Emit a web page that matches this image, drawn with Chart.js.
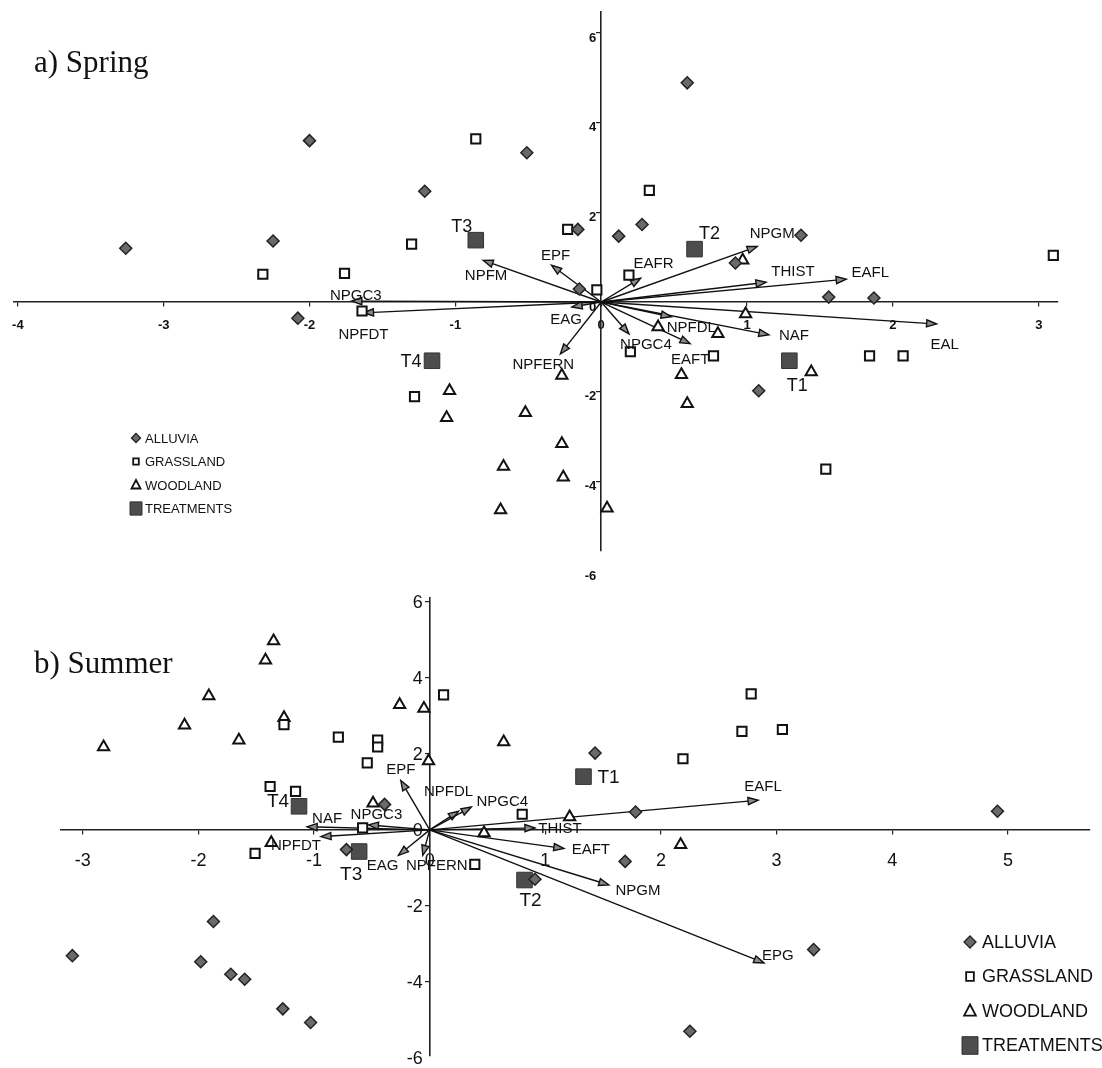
<!DOCTYPE html>
<html>
<head>
<meta charset="utf-8">
<script src="https://cdn.jsdelivr.net/npm/chart.js"></script>
<style>
	body { margin: 0; background: #fff; }
	#wrap { position: relative; width: 1102px; height: 1068px; }
	canvas { position: absolute; left: 0; display: block; }
</style>
</head>
<body>
<div id="wrap">
	<canvas id="spring" width="1102" height="584" style="top:0"></canvas>
	<canvas id="summer" width="1102" height="484" style="top:584px"></canvas>
</div>
<script>
// groups and treatments
const groupNames = ['ALLUVIA', 'GRASSLAND', 'WOODLAND', 'TREATMENTS'];
const treatmentNames = ['T1', 'T2', 'T3', 'T4'];

// a) Spring
const springTicksX = [-4, -3, -2, -1, 0, 1, 2, 3];
const springTicksY = [-6, -4, -2, 0, 2, 4, 6];
const springAlluvia = [[-3.26, 1.20], [-2.25, 1.36], [-2.00, 3.60], [-1.21, 2.47], [-0.51, 3.33], [0.59, 4.89], [-0.16, 1.62], [0.12, 1.47], [0.28, 1.73], [1.37, 1.49], [0.92, 0.87], [1.56, 0.11], [1.87, 0.09], [-0.15, 0.29], [-2.08, -0.36], [1.08, -1.98]];
const springGrassland = [[-2.32, 0.62], [-1.76, 0.64], [-1.30, 1.29], [-0.86, 3.64], [-0.23, 1.62], [0.33, 2.49], [0.19, 0.60], [-0.03, 0.27], [3.10, 1.04], [-1.64, -0.20], [-1.28, -2.11], [0.20, -1.11], [0.77, -1.20], [1.84, -1.20], [2.07, -1.20], [1.54, -3.73]];
const springWoodland = [[0.97, 0.93], [0.99, -0.27], [0.39, -0.56], [0.80, -0.71], [0.55, -1.62], [-0.27, -1.64], [-1.04, -1.98], [-1.06, -2.58], [-0.52, -2.47], [0.59, -2.27], [1.44, -1.56], [-0.27, -3.16], [-0.26, -3.91], [-0.67, -3.67], [-0.69, -4.64], [0.04, -4.60]];
const springTreatments = [[1.29, -1.31], [0.64, 1.18], [-0.86, 1.38], [-1.16, -1.31]];
const springVars = ['NPGC3', 'NPFDT', 'NPFM', 'EPF', 'EAFR', 'NPGM', 'THIST', 'EAFL', 'EAL', 'NAF', 'NPFDL', 'EAFT', 'NPGC4', 'NPFERN', 'EAG'];
const springVarX = [-1.71, -1.63, -0.81, -0.34, 0.27, 1.07, 1.13, 1.68, 2.30, 1.15, 0.48, 0.61, 0.19, -0.28, -0.20];
const springVarY = [0.02, -0.24, 0.93, 0.82, 0.53, 1.24, 0.44, 0.51, -0.49, -0.73, -0.33, -0.93, -0.71, -1.16, -0.11];

// b) Summer
const summerTicksX = [-3, -2, -1, 0, 1, 2, 3, 4, 5];
const summerTicksY = [-6, -4, -2, 0, 2, 4, 6];
const summerAlluvia = [[1.43, 2.02], [1.78, 0.47], [1.69, -0.83], [4.91, 0.49], [3.32, -3.15], [2.25, -5.30], [-0.39, 0.67], [-0.72, -0.52], [0.91, -1.30], [-3.09, -3.31], [-1.87, -2.41], [-1.98, -3.47], [-1.72, -3.80], [-1.60, -3.93], [-1.27, -4.71], [-1.03, -5.07]];
const summerGrassland = [[0.12, 3.55], [-0.79, 2.44], [-0.45, 2.36], [-0.45, 2.18], [-0.54, 1.76], [-1.26, 2.77], [-1.38, 1.14], [-1.16, 1.01], [0.80, 0.41], [2.78, 3.58], [2.70, 2.59], [3.05, 2.64], [2.19, 1.87], [-1.51, -0.62], [-0.58, 0.05], [0.39, -0.91]];
const summerWoodland = [[-1.35, 4.97], [-1.42, 4.46], [-1.91, 3.52], [-2.12, 2.75], [-2.82, 2.18], [-1.65, 2.36], [-1.26, 2.95], [-0.26, 3.29], [-0.05, 3.19], [-0.01, 1.81], [0.64, 2.31], [-0.49, 0.70], [1.21, 0.34], [0.47, -0.08], [-1.37, -0.34], [2.17, -0.39]];
const summerTreatments = [[1.33, 1.40], [0.82, -1.32], [-0.61, -0.57], [-1.13, 0.62]];
const summerVars = ['EPF', 'NPFDL', 'NPGC4', 'THIST', 'EAFL', 'EAFT', 'NPGM', 'EPG', 'NPFERN', 'EAG', 'NAF', 'NPFDT', 'NPGC3'];
const summerVarX = [-0.25, 0.25, 0.36, 0.91, 2.84, 1.16, 1.55, 2.89, -0.06, -0.27, -1.06, -0.94, -0.53];
const summerVarY = [1.30, 0.49, 0.60, 0.05, 0.78, -0.49, -1.45, -3.50, -0.67, -0.67, 0.08, -0.18, 0.13];

const SANS = '"Liberation Sans", Arial, sans-serif';
const SERIF = '"Liberation Serif", "Times New Roman", serif';

// where each text sits relative to its arrow head / treatment square (px)
const springLabelShift = {
	NPGC3: [4, -5], NPFDT: [0, 22], NPFM: [3, 16], EPF: [4, -9], EAFR: [13, -14], NPGM: [15, -13],
	THIST: [27, -10], EAFL: [24, -6], EAL: [8, 21], NAF: [25, 1], NPFDL: [20, 11], EAFT: [0, 16],
	NPGC4: [17, 11], NPFERN: [-17, 11], EAG: [-6, 13]
};
const springTreatShift = [[8, 25], [15, -15], [-14, -13], [-21, 1]];
const summerLabelShift = {
	EPF: [0, -11], NPFDL: [-10, -19], NPGC4: [31, -5], THIST: [25, 1], EAFL: [5, -13], EAFT: [27, 1],
	NPGM: [29, 6], EPG: [14, -7], NPFERN: [14, 11], EAG: [-16, 11], NAF: [20, -8], NPFDT: [-25, 9], NPGC3: [8, -10]
};
const summerTreatShift = [[25, 1], [6, 21], [-8, 23], [-21, -5]];

function toPoints(arr) {
	return arr.map(p => ({ x: p[0], y: p[1] }));
}

// small marker shapes for the legends
function mark(ctx, style, x, y, s) {
	ctx.beginPath();
	if (style == 0) {
		ctx.moveTo(x, y - s); ctx.lineTo(x + s, y); ctx.lineTo(x, y + s); ctx.lineTo(x - s, y);
		ctx.closePath();
		ctx.fillStyle = '#6a6a6a'; ctx.strokeStyle = '#222'; ctx.lineWidth = 1.3;
		ctx.fill(); ctx.stroke();
	} else if (style == 1) {
		ctx.rect(x - s * 0.7, y - s * 0.8, s * 1.4, s * 1.6);
		ctx.fillStyle = '#fff'; ctx.strokeStyle = '#111'; ctx.lineWidth = 1.8;
		ctx.fill(); ctx.stroke();
	} else if (style == 2) {
		ctx.moveTo(x, y - s); ctx.lineTo(x + s * 0.9, y + s * 0.7); ctx.lineTo(x - s * 0.9, y + s * 0.7);
		ctx.closePath();
		ctx.fillStyle = '#fff'; ctx.strokeStyle = '#111'; ctx.lineWidth = 1.8;
		ctx.fill(); ctx.stroke();
	} else {
		ctx.rect(x - s, y - s * 1.1, s * 2, s * 2.2);
		ctx.fillStyle = '#4d4d4d'; ctx.strokeStyle = '#333'; ctx.lineWidth = 1;
		ctx.fill(); ctx.stroke();
	}
}

function arrow(ctx, x0, y0, x1, y1) {
	var a = Math.atan2(y1 - y0, x1 - x0), L = 10, W = 3.6;
	var bx = x1 - L * Math.cos(a), by = y1 - L * Math.sin(a);
	ctx.beginPath(); ctx.moveTo(x0, y0); ctx.lineTo(bx, by); ctx.stroke();
	ctx.beginPath();
	ctx.moveTo(x1, y1);
	ctx.lineTo(bx + W * Math.sin(a), by - W * Math.cos(a));
	ctx.lineTo(bx - W * Math.sin(a), by + W * Math.cos(a));
	ctx.closePath(); ctx.fill(); ctx.stroke();
}

function overlay(cfg) {
	return {
		id: 'overlay',
		beforeDatasetsDraw(chart) {
			var ctx = chart.ctx, xs = chart.scales.x, ys = chart.scales.y;
			var x0 = xs.getPixelForValue(0), y0 = ys.getPixelForValue(0);
			ctx.save();
			ctx.strokeStyle = '#111'; ctx.fillStyle = '#8a8a8a'; ctx.lineWidth = 1.4;
			cfg.vars.forEach((n, i) => {
				arrow(ctx, x0, y0, xs.getPixelForValue(cfg.varX[i]), ys.getPixelForValue(cfg.varY[i]));
			});
			ctx.restore();
		},
		afterDatasetsDraw(chart) {
			var ctx = chart.ctx, xs = chart.scales.x, ys = chart.scales.y;
			var x0 = xs.getPixelForValue(0);
			ctx.save();
			ctx.fillStyle = '#111';
			// y tick labels, left of the centred axis (the lowest one may sit past the axis end)
			ctx.font = cfg.tickWeight + ' ' + cfg.tickFont + 'px ' + SANS;
			ctx.textAlign = 'right'; ctx.textBaseline = 'middle';
			cfg.ticksY.forEach(v => {
				ctx.fillText(String(v), x0 - cfg.yPad, ys.getPixelForValue(v) + cfg.yLabelOffset);
			});
			ctx.textAlign = 'center';
			// variable names at the arrow heads
			ctx.font = cfg.varFont + 'px ' + SANS;
			cfg.vars.forEach((n, i) => {
				var d = cfg.labelShift[n];
				ctx.fillText(n, xs.getPixelForValue(cfg.varX[i]) + d[0], ys.getPixelForValue(cfg.varY[i]) + d[1]);
			});
			// treatment names
			ctx.font = cfg.treatFont + 'px ' + SANS;
			treatmentNames.forEach((n, i) => {
				var d = cfg.treatShift[i];
				ctx.fillText(n, xs.getPixelForValue(cfg.treat[i][0]) + d[0], ys.getPixelForValue(cfg.treat[i][1]) + d[1]);
			});
			// legend
			ctx.textAlign = 'left';
			ctx.font = cfg.legend.font + 'px ' + SANS;
			groupNames.forEach((n, i) => {
				var ly = cfg.legend.y + i * cfg.legend.gap;
				mark(ctx, i, cfg.legend.x, ly, cfg.legend.size[i]);
				ctx.fillStyle = '#111';
				ctx.fillText(n, cfg.legend.x + cfg.legend.textGap, ly + 1);
			});
			// panel title
			ctx.textBaseline = 'alphabetic';
			ctx.font = '31px ' + SERIF;
			ctx.fillText(cfg.title, 34, cfg.titleY);
			ctx.restore();
		}
	};
}

function makeChart(id, cfg) {
	var base = { clip: false, pointHoverRadius: 0 };
	return new Chart(document.getElementById(id), {
		type: 'scatter',
		data: {
			datasets: [
				Object.assign({ label: groupNames[0], data: toPoints(cfg.alluvia), pointStyle: 'rectRot', pointRadius: 6,
					backgroundColor: '#6a6a6a', borderColor: '#222', borderWidth: 1.5 }, base),
				Object.assign({ label: groupNames[1], data: toPoints(cfg.grassland), pointStyle: 'rect', pointRadius: 6.5,
					backgroundColor: '#fff', borderColor: '#111', borderWidth: 2 }, base),
				Object.assign({ label: groupNames[2], data: toPoints(cfg.woodland), pointStyle: 'triangle', pointRadius: 6.5,
					backgroundColor: '#fff', borderColor: '#111', borderWidth: 2 }, base),
				Object.assign({ label: groupNames[3], data: toPoints(cfg.treat), pointStyle: 'rect', pointRadius: 11,
					backgroundColor: '#4d4d4d', borderColor: '#333', borderWidth: 1 }, base)
			]
		},
		options: {
			responsive: false,
			animation: false,
			events: [],
			layout: { padding: cfg.padding },
			plugins: { legend: { display: false }, tooltip: { enabled: false } },
			scales: {
				x: {
					type: 'linear', min: cfg.xMin, max: cfg.xMax, position: { y: 0 },
					afterBuildTicks: s => { s.ticks = cfg.ticksX.map(v => ({ value: v })); },
					grid: { drawOnChartArea: false, tickLength: 4, color: '#222', lineWidth: 1.2 },
					border: { color: '#222', width: 1.6 },
					ticks: { autoSkip: false, maxRotation: 0, color: '#111', padding: cfg.xPad,
						font: { family: SANS, size: cfg.tickFont, weight: cfg.tickWeight } }
				},
				y: {
					type: 'linear', min: cfg.yMin, max: cfg.yMax, position: { x: 0 },
					afterBuildTicks: s => { s.ticks = cfg.ticksY.filter(v => v >= cfg.yMin && v <= cfg.yMax).map(v => ({ value: v })); },
					grid: { drawOnChartArea: false, tickLength: 4, color: '#222', lineWidth: 1.2 },
					border: { color: '#222', width: 1.6 },
					ticks: { display: false }
				}
			}
		},
		plugins: [overlay(cfg)]
	});
}

makeChart('spring', {
	title: 'a) Spring', titleY: 72,
	alluvia: springAlluvia, grassland: springGrassland, woodland: springWoodland, treat: springTreatments,
	vars: springVars, varX: springVarX, varY: springVarY,
	labelShift: springLabelShift, treatShift: springTreatShift,
	ticksX: springTicksX, ticksY: springTicksY,
	xMin: -4.03, xMax: 3.13, yMin: -5.55, yMax: 6.47,
	padding: { left: 5.6, right: 44.3, top: 9.9, bottom: 33.2 },
	tickFont: 13, tickWeight: 'bold', xPad: 12, yPad: 5, yLabelOffset: 5,
	varFont: 15, treatFont: 18,
	legend: { x: 136, y: 438, gap: 23.5, textGap: 9, font: 13, size: [4.5, 4, 5, 6] }
});

makeChart('summer', {
	title: 'b) Summer', titleY: 89,
	alluvia: summerAlluvia, grassland: summerGrassland, woodland: summerWoodland, treat: summerTreatments,
	vars: summerVars, varX: summerVarX, varY: summerVarY,
	labelShift: summerLabelShift, treatShift: summerTreatShift,
	ticksX: summerTicksX, ticksY: summerTicksY,
	xMin: -3.19, xMax: 5.71, yMin: -5.95, yMax: 6.10,
	padding: { left: 60.8, right: 0, top: 14, bottom: 0 },
	tickFont: 18, tickWeight: 'normal', xPad: 16, yPad: 7, yLabelOffset: 1,
	varFont: 15, treatFont: 19,
	legend: { x: 970, y: 358, gap: 34.5, textGap: 12, font: 18, size: [6, 5.5, 6.5, 8] }
});
</script>
</body>
</html>
